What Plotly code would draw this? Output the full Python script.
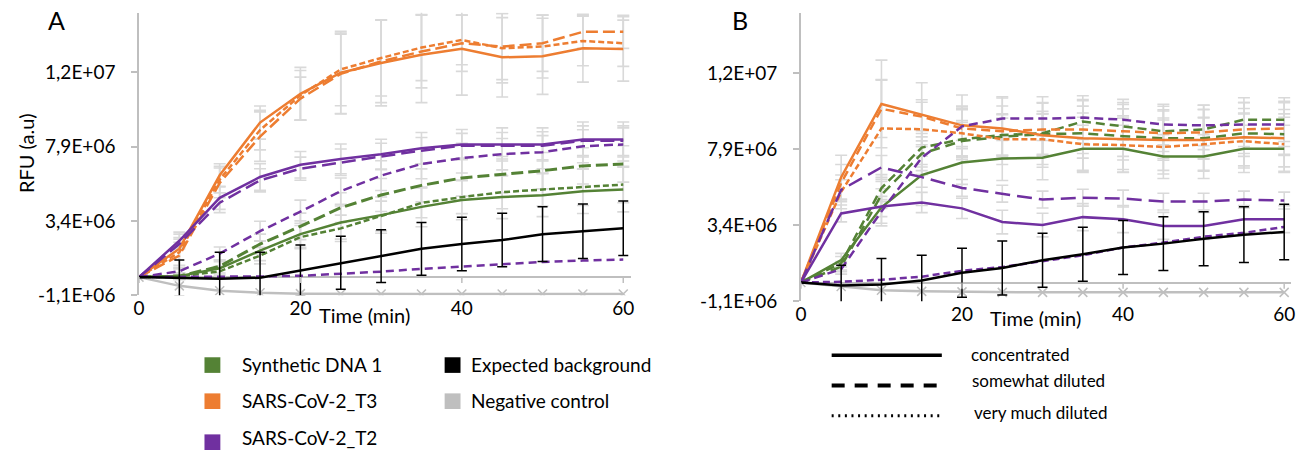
import plotly.graph_objects as go

W, H = 1313, 461

# ---------------- data (RFU, in millions) ----------------
time_min = [0, 5, 10, 15, 20, 25, 30, 35, 40, 45, 50, 55, 60]
x_ticks = [0, 20, 40, 60]
y_tickvals = [-1.1e6, 3.4e6, 7.9e6, 1.24e7]
y_ticktext = ["-1,1E+06", "3,4E+06", "7,9E+06", "1,2E+07"]

# Panel A
A_green_conc = [0, 0.06, 0.53, 1.6, 2.6, 3.3, 3.75, 4.25, 4.67, 4.84, 4.96, 5.2, 5.3]
A_green_dil = [0, 0.06, 0.65, 2.0, 3.07, 4.2, 4.97, 5.55, 6.0, 6.2, 6.44, 6.73, 6.85]
A_green_vdil = [0, 0.04, 0.35, 1.3, 2.42, 2.95, 3.7, 4.49, 4.84, 5.14, 5.3, 5.43, 5.6]
A_orange_conc = [0, 1.72, 6.16, 9.35, 11.09, 12.37, 12.96, 13.46, 13.81, 13.3, 13.36, 13.85, 13.81]
A_orange_dil = [0, 1.3, 5.7, 8.5, 10.8, 12.3, 13.06, 13.65, 14.15, 13.95, 14.15, 14.84, 14.84]
A_orange_vdil = [0, 1.5, 5.9, 8.9, 11.0, 12.57, 13.26, 13.89, 14.35, 13.85, 13.95, 14.29, 14.15]
A_purple_conc = [0, 2.2, 4.8, 6.06, 6.8, 7.15, 7.44, 7.8, 8.03, 8.03, 8.03, 8.33, 8.33]
A_purple_dil = [0, 2.0, 4.5, 5.86, 6.56, 6.95, 7.3, 7.65, 7.95, 7.95, 7.95, 8.25, 8.25]
A_purple_vdil = [0, 0.35, 1.42, 2.78, 3.96, 5.2, 6.14, 6.85, 7.2, 7.44, 7.56, 7.92, 8.03]
A_purple_low = [0, 0.0, 0.02, 0.04, 0.08, 0.2, 0.33, 0.5, 0.65, 0.77, 0.92, 1.0, 1.06]
A_background = [0, -0.06, -0.1, -0.04, 0.4, 0.87, 1.27, 1.71, 2.0, 2.24, 2.6, 2.78, 2.95]
A_negative = [0, -0.53, -0.83, -0.95, -1.0, -1.02, -1.02, -1.02, -1.02, -1.02, -1.02, -1.02, -1.02]

A_green_conc_err = [0, 0.2, 0.4, 0.6, 0.8, 1.0, 1.1, 1.2, 1.2, 1.3, 1.3, 1.35, 1.35]
A_green_dil_err = [0, 0.2, 0.4, 0.6, 0.8, 0.9, 1.0, 1.0, 1.1, 1.1, 1.1, 1.1, 1.1]
A_green_vdil_err = [0, 0.15, 0.3, 0.5, 0.7, 0.8, 0.9, 0.9, 1.0, 1.0, 1.0, 1.1, 1.1]
A_orange_conc_err = [0, 1.0, 0.7, 1.0, 1.6, 2.5, 2.6, 2.9, 2.8, 2.4, 2.3, 2.05, 1.95]
A_orange_dil_err = [0, 0.8, 0.9, 1.5, 1.3, 2.4, 2.5, 2.2, 1.7, 2.0, 1.7, 1.0, 1.0]
A_orange_vdil_err = [0, 0.9, 0.8, 1.2, 1.5, 2.2, 2.3, 2.0, 1.5, 2.1, 1.9, 1.5, 1.4]
A_purple_conc_err = [0, 0.4, 0.7, 0.8, 0.8, 0.9, 0.9, 0.95, 0.9, 1.0, 1.0, 1.06, 1.06]
A_purple_dil_err = [0, 0.3, 0.6, 0.7, 0.7, 0.8, 0.8, 0.8, 0.75, 0.8, 0.85, 0.9, 0.9]
A_purple_vdil_err = [0, 0.2, 0.4, 0.6, 0.7, 0.8, 0.9, 0.9, 0.9, 0.95, 1.0, 1.0, 1.0]
A_background_err = [0, 1.1, 1.6, 1.55, 1.55, 1.6, 1.6, 1.6, 1.62, 1.62, 1.65, 1.65, 1.65]

# Panel B
B_green_conc = [0, 1.33, 4.46, 6.37, 7.12, 7.35, 7.4, 7.93, 7.93, 7.47, 7.47, 7.93, 7.93]
B_green_dil = [0, 1.15, 5.6, 8.0, 8.5, 8.75, 8.85, 9.55, 9.26, 8.97, 9.08, 9.66, 9.66]
B_green_vdil = [0, 0.95, 5.2, 7.64, 8.39, 8.65, 8.8, 8.85, 8.68, 8.56, 8.56, 8.85, 8.8]
B_orange_conc = [0, 6.25, 10.59, 9.95, 9.32, 9.14, 8.74, 8.56, 8.5, 8.45, 8.45, 8.62, 8.56]
B_orange_dil = [0, 5.9, 10.3, 9.84, 9.14, 8.97, 9.08, 9.08, 8.97, 8.85, 8.91, 9.08, 9.14]
B_orange_vdil = [0, 5.38, 9.14, 9.09, 8.85, 8.5, 8.5, 8.2, 8.15, 8.04, 8.2, 8.39, 8.2]
B_purple_conc = [0, 4.1, 4.51, 4.75, 4.4, 3.59, 3.41, 3.88, 3.76, 3.36, 3.36, 3.76, 3.76]
B_purple_dil = [0, 5.5, 6.83, 6.25, 5.61, 5.27, 4.92, 5.03, 4.98, 4.8, 4.8, 4.92, 4.86]
B_purple_vdil = [0, 0.8, 4.22, 7.4, 9.26, 9.72, 9.72, 9.78, 9.66, 9.37, 9.32, 9.37, 9.37]
B_purple_low = [0, 0.05, 0.17, 0.35, 0.7, 0.92, 1.27, 1.62, 2.08, 2.37, 2.72, 2.95, 3.3]
B_background = [0, -0.17, -0.12, 0.12, 0.58, 0.87, 1.33, 1.68, 2.08, 2.31, 2.6, 2.84, 3.0]
B_negative = [0, -0.23, -0.45, -0.52, -0.55, -0.58, -0.58, -0.58, -0.58, -0.58, -0.58, -0.58, -0.58]

B_green_conc_err = [0, 0.4, 1.1, 1.8, 1.3, 1.3, 1.3, 1.4, 1.4, 1.3, 1.3, 1.4, 1.4]
B_green_dil_err = [0, 0.4, 0.8, 1.0, 1.1, 1.2, 1.3, 1.3, 1.3, 1.2, 1.2, 1.3, 1.3]
B_green_vdil_err = [0, 0.3, 0.8, 1.0, 1.1, 1.1, 1.2, 1.2, 1.2, 1.2, 1.2, 1.2, 1.2]
B_orange_conc_err = [0, 1.3, 2.6, 1.9, 1.8, 1.8, 1.9, 1.9, 1.8, 1.8, 1.8, 1.7, 1.7]
B_orange_dil_err = [0, 1.1, 1.7, 1.0, 1.2, 1.5, 1.6, 1.7, 1.7, 1.6, 1.6, 1.6, 1.6]
B_orange_vdil_err = [0, 1.0, 2.9, 1.6, 1.4, 1.5, 1.5, 1.6, 1.6, 1.6, 1.6, 1.6, 1.6]
B_purple_conc_err = [0, 0.5, 0.6, 0.6, 0.6, 0.7, 0.7, 0.8, 0.8, 0.8, 0.8, 0.8, 0.8]
B_purple_dil_err = [0, 0.6, 0.7, 0.6, 0.5, 0.5, 0.5, 0.5, 0.5, 0.5, 0.5, 0.5, 0.5]
B_purple_vdil_err = [0, 0.3, 0.7, 1.0, 1.2, 1.3, 1.3, 1.3, 1.2, 1.2, 1.2, 1.3, 1.3]
B_background_err = [0, 1.2, 1.55, 1.5, 1.45, 1.6, 1.6, 1.6, 1.6, 1.6, 1.6, 1.65, 1.65]

legend_colors = ["Synthetic DNA 1", "SARS-CoV-2_T3", "SARS-CoV-2_T2", "Expected background", "Negative control"]
legend_styles = ["concentrated", "somewhat diluted", "very much diluted"]

# ---------------- styles ----------------
GREEN, ORANGE, PURPLE = "#548235", "#ED7D31", "#7030A0"
BLACK, NEG, ERRG, AXG = "#000000", "#BFBFBF", "#D9D9D9", "#BFBFBF"
FONT = "Lato, 'Open Sans', sans-serif"
LONG, MED, SHORT = "12px,5px", "9px,5px", "6px,3px"

M = 1e6
def sc(v):
    return [a * M for a in v]

fig = go.Figure()

series = [
    # panel, values, errors, color, dash, width
    ("A", A_green_conc, A_green_conc_err, GREEN, "solid", 2.5),
    ("A", A_green_dil, A_green_dil_err, GREEN, LONG, 3),
    ("A", A_green_vdil, A_green_vdil_err, GREEN, SHORT, 2.5),
    ("A", A_orange_conc, A_orange_conc_err, ORANGE, "solid", 2.5),
    ("A", A_orange_dil, A_orange_dil_err, ORANGE, LONG, 2.5),
    ("A", A_orange_vdil, A_orange_vdil_err, ORANGE, SHORT, 2.5),
    ("A", A_purple_conc, A_purple_conc_err, PURPLE, "solid", 2.5),
    ("A", A_purple_dil, A_purple_dil_err, PURPLE, "14px,6px", 2.5),
    ("A", A_purple_vdil, A_purple_vdil_err, PURPLE, MED, 2.5),
    ("A", A_purple_low, None, PURPLE, "8px,5px", 2.5),
    ("B", B_green_conc, B_green_conc_err, GREEN, "solid", 2.5),
    ("B", B_green_dil, B_green_dil_err, GREEN, MED, 2.5),
    ("B", B_green_vdil, B_green_vdil_err, GREEN, "10px,6px", 2.5),
    ("B", B_orange_conc, B_orange_conc_err, ORANGE, "solid", 2.5),
    ("B", B_orange_dil, B_orange_dil_err, ORANGE, MED, 2.5),
    ("B", B_orange_vdil, B_orange_vdil_err, ORANGE, SHORT, 2.5),
    ("B", B_purple_conc, B_purple_conc_err, PURPLE, "solid", 2.5),
    ("B", B_purple_dil, B_purple_dil_err, PURPLE, "15px,7px", 2.5),
    ("B", B_purple_vdil, B_purple_vdil_err, PURPLE, MED, 2.5),
    ("B", B_purple_low, None, PURPLE, "7px,4px", 2.5),
]
axmap = {"A": ("x", "y"), "B": ("x2", "y2")}

# gray error bars first (underneath all lines)
for panel, vals, err, col, dash, lw in series:
    if err is None:
        continue
    xa, ya = axmap[panel]
    fig.add_trace(go.Scatter(
        x=time_min, y=sc(vals), mode="markers", xaxis=xa, yaxis=ya,
        marker=dict(size=0, opacity=0), showlegend=False, hoverinfo="skip",
        error_y=dict(type="data", array=sc(err), color=ERRG, thickness=1.6, width=6)))

# negative control
for panel, vals in (("A", A_negative), ("B", B_negative)):
    xa, ya = axmap[panel]
    fig.add_trace(go.Scatter(
        x=time_min, y=sc(vals), mode="lines+markers", xaxis=xa, yaxis=ya,
        line=dict(color=NEG, width=2.5),
        marker=dict(symbol="x-thin", size=9, line=dict(color=NEG, width=1.5), color=NEG),
        showlegend=False))

# coloured lines
for panel, vals, err, col, dash, lw in series:
    xa, ya = axmap[panel]
    fig.add_trace(go.Scatter(
        x=time_min, y=sc(vals), mode="lines", xaxis=xa, yaxis=ya,
        line=dict(color=col, width=lw, dash=dash), showlegend=False))

# expected background with black error bars
for panel, vals, err in (("A", A_background, A_background_err), ("B", B_background, B_background_err)):
    xa, ya = axmap[panel]
    fig.add_trace(go.Scatter(
        x=time_min, y=sc(vals), mode="lines", xaxis=xa, yaxis=ya,
        line=dict(color=BLACK, width=2.5), showlegend=False,
        error_y=dict(type="data", array=sc(err), color=BLACK, thickness=1.5, width=5)))

# ---------------- layout ----------------
def px_x(p):
    return p / W

def px_y(p):
    return 1 - p / H

A_x0, A_ppu = 134, 488 / 60
B_x0, B_ppu = 801, 487 / 60
XMAX = 60.9

common_x = dict(range=[0, XMAX], tickvals=x_ticks, ticks="", showline=False, showgrid=False,
                zeroline=False, tickfont=dict(family=FONT, size=19, color="black"))
common_y = dict(range=[-1.1e6, 1.6e7], tickvals=y_tickvals, ticktext=y_ticktext,
                ticks="outside", ticklen=6, tickcolor=AXG, tickwidth=1.5,
                showline=True, linecolor=AXG, linewidth=1.5, showgrid=False,
                zeroline=True, zerolinecolor=AXG, zerolinewidth=1.5,
                ticklabelstandoff=12, tickfont=dict(family=FONT, size=19, color="black"))

fig.update_layout(
    width=W, height=H, margin=dict(l=0, r=0, t=0, b=0),
    paper_bgcolor="white", plot_bgcolor="white", showlegend=False,
    font=dict(family=FONT, color="black"),
    xaxis=dict(domain=[px_x(A_x0), px_x(A_x0 + XMAX * A_ppu)], anchor="y", **common_x),
    yaxis=dict(domain=[px_y(302.5), px_y(13)], anchor="x", **common_y),
    xaxis2=dict(domain=[px_x(B_x0), px_x(B_x0 + XMAX * B_ppu)], anchor="y2", **common_x),
    yaxis2=dict(domain=[px_y(308.5), px_y(13)], anchor="x2", **common_y),
)

shapes = []
# x-axis tick marks hanging from the zero line
for xr, yr in (("x", "y"), ("x2", "y2")):
    for tv in x_ticks:
        shapes.append(dict(type="line", xref=xr, yref=yr, x0=tv, x1=tv, y0=0, y1=-0.36e6,
                           line=dict(color=AXG, width=1.5)))

# colour legend squares
sq = [(200, 366, GREEN), (200, 403, ORANGE), (200, 445, PURPLE), (442, 366, BLACK), (442, 403, NEG)]
for x0, y0, c in sq:
    shapes.append(dict(type="rect", xref="paper", yref="paper",
                       x0=px_x(x0), x1=px_x(x0 + 16), y0=px_y(y0 + 16), y1=px_y(y0),
                       fillcolor=c, line=dict(width=0)))

# line-style legend
for yy, d, w in ((364, "solid", 3.5), (395, "13px,10px", 4), (426, "2px,4.6px", 3)):
    shapes.append(dict(type="line", xref="paper", yref="paper",
                       x0=px_x(832), x1=px_x(943), y0=px_y(yy), y1=px_y(yy),
                       line=dict(color="black", width=w, dash=d)))
fig.update_layout(shapes=shapes)

ann = []
def txt(t, x, y, size, xanchor="left", angle=0):
    ann.append(dict(text=t, x=px_x(x), y=px_y(y), xref="paper", yref="paper",
                    xanchor=xanchor, yanchor="middle", showarrow=False, textangle=angle,
                    font=dict(family=FONT, size=size, color="black")))

txt("A", 51, 21, 25, "center")
txt("B", 740, 20, 25, "center")
txt("RFU (a.u)", 20, 157, 20, "center", -90)
txt("Time (min)", 361, 323, 20, "center")
txt("Time (min)", 1037, 326, 20, "center")
txt(legend_colors[0], 236, 373, 19)
txt(legend_colors[1], 236, 410, 19)
txt(legend_colors[2], 236, 448, 19)
txt(legend_colors[3], 467, 373, 19)
txt(legend_colors[4], 467, 410, 19)
txt(legend_styles[0], 970, 363, 17)
txt(legend_styles[1], 971, 390, 17)
txt(legend_styles[2], 973, 423, 17)
fig.update_layout(annotations=ann)

fig.write_html("out.html")
